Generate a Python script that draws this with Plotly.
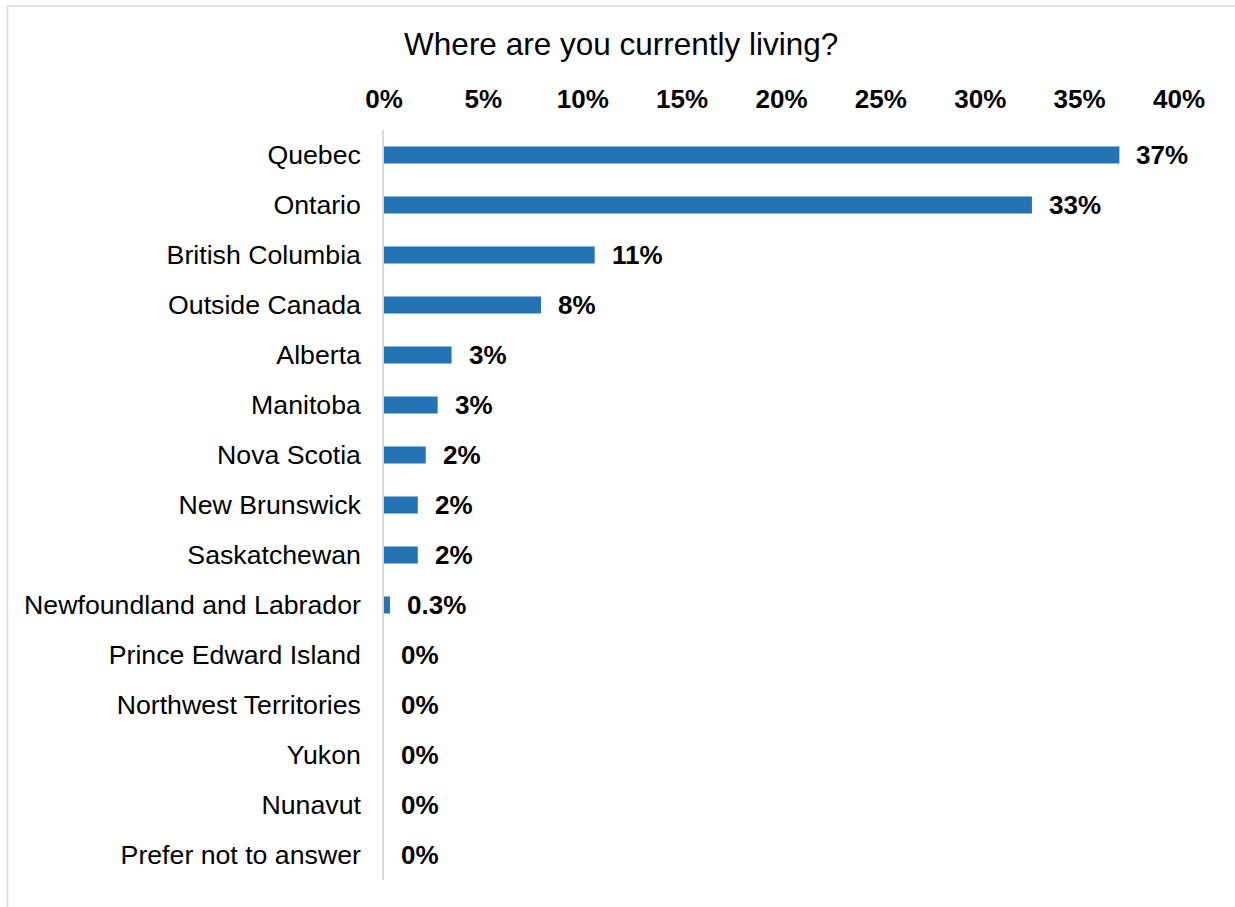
import plotly.graph_objects as go

# Survey responses: share of respondents by current place of residence (%)
regions = [
    "Quebec", "Ontario", "British Columbia", "Outside Canada", "Alberta",
    "Manitoba", "Nova Scotia", "New Brunswick", "Saskatchewan",
    "Newfoundland and Labrador", "Prince Edward Island",
    "Northwest Territories", "Yukon", "Nunavut", "Prefer not to answer",
]
shares = [37.0, 32.6, 10.6, 7.9, 3.4, 2.7, 2.1, 1.7, 1.7, 0.3, 0, 0, 0, 0, 0]

tick_values = [0, 5, 10, 15, 20, 25, 30, 35, 40]
tick_labels = ["0%", "5%", "10%", "15%", "20%", "25%", "30%", "35%", "40%"]

TITLE = "Where are you currently living?"
FONT = "Arial, 'Liberation Sans', sans-serif"
BAR_COLOR = "#2473B4"
GRID_GRAY = "#D9D9D9"

W, H = 1235, 907
M_L, M_R, M_T, M_B = 384, 56, 130, 27


def fmt_share(v):
    """Whole percent, except small non-zero shares keep one decimal."""
    if 0 < v < 1:
        return f"{v:.1f}%"
    return f"{round(v):d}%"


fig = go.Figure(
    go.Bar(
        x=shares,
        y=regions,
        orientation="h",
        marker=dict(color=BAR_COLOR, line=dict(width=0)),
        hoverinfo="skip",
    )
)

# value labels just past the end of each bar
for name, v in zip(regions, shares):
    fig.add_annotation(
        x=v, y=name, xref="x", yref="y",
        text=f"<b>{fmt_share(v)}</b>",
        showarrow=False, xanchor="left", yanchor="middle", xshift=15,
        font=dict(family=FONT, size=26, color="#000000"),
    )

# light frame along the top and left edges of the chart area
plot_w = W - M_L - M_R
plot_h = H - M_T - M_B
def px_x(px):
    return (px - M_L) / plot_w
def px_y(py):
    return 1 - (py - M_T) / plot_h

fig.add_shape(
    type="line", xref="paper", yref="paper",
    x0=px_x(7.5), x1=px_x(7.5), y0=px_y(6), y1=px_y(H + 5),
    line=dict(color=GRID_GRAY, width=1.5),
)
fig.add_shape(
    type="line", xref="paper", yref="paper",
    x0=px_x(7.5), x1=px_x(W + 5), y0=px_y(6), y1=px_y(6),
    line=dict(color=GRID_GRAY, width=1.5),
)

fig.update_layout(
    width=W, height=H,
    margin=dict(l=M_L, r=M_R, t=M_T, b=M_B),
    paper_bgcolor="white", plot_bgcolor="white",
    showlegend=False,
    bargap=0.66,
    title=dict(
        text=TITLE, x=0.503, xanchor="center",
        y=1 - 44 / H, yanchor="middle", yref="container",
        font=dict(family=FONT, size=31.5, color="#000000"),
    ),
    xaxis=dict(
        side="top", range=[0, 40],
        tickvals=tick_values, ticktext=tick_labels,
        tickfont=dict(family=FONT, size=26, color="#000000", weight="bold"),
        showgrid=False, zeroline=False, showline=False,
        ticks="", ticklabelstandoff=16,
        fixedrange=True,
    ),
    yaxis=dict(
        categoryorder="array", categoryarray=regions[::-1],
        tickfont=dict(family=FONT, size=26.7, color="#000000"),
        showgrid=False, zeroline=False,
        showline=True, linecolor=GRID_GRAY, linewidth=1.5,
        ticks="", ticklabelstandoff=16,
        fixedrange=True,
    ),
)

fig.write_html("out.html")
